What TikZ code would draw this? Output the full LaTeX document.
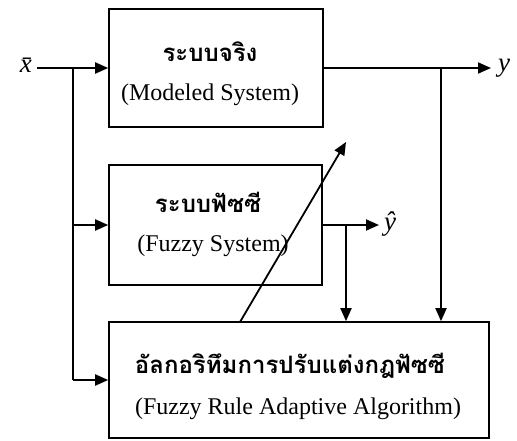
\documentclass[tikz,border=0pt]{standalone}
\usepackage{fontspec}
\setmainfont{Liberation Serif}
\newfontfamily\thaifont[Script=Thai]{Loma}
\usetikzlibrary{arrows.meta}
\begin{document}
\begin{tikzpicture}[x=1pt,y=-1pt,
  block/.style={draw, line width=1.6pt, inner sep=0pt},
  wire/.style={line width=1.8pt},
  flow/.style={wire, -{Triangle[length=13pt,width=11pt]}},
  entxt/.style={font=\fontsize{24}{28}\selectfont, inner sep=0pt, anchor=base},
  thtxt/.style={font=\thaifont\bfseries\fontsize{24}{28}\selectfont, inner sep=0pt, anchor=base},
  sig/.style={font=\fontsize{27}{30}\selectfont\itshape, inner sep=0pt}
]
\useasboundingbox (0,0) rectangle (517,441);

% blocks
\node[block, minimum width=214pt, minimum height=118pt] (plant) at (216,68) {};
\node[block, minimum width=213pt, minimum height=120pt] (fuzz) at (215.5,225) {};
\node[block, minimum width=380pt, minimum height=116pt] (alg) at (299,380) {};

% block captions
\node[thtxt] (plantth) at (210,62) {ระบบจริง};
\node[entxt] (planten) at (210,101) {(Modeled System)};
\node[thtxt] (fuzzth) at (208,212) {ระบบฟัซซี};
\node[entxt] (fuzzen) at (213,251) {(Fuzzy System)};
\node[thtxt] (algth) at (290,373) {อัลกอริทึมการปรับแต่งกฎฟัซซี};
\node[entxt] (algen) at (298,414) {(Fuzzy Rule Adaptive Algorithm)};

% signal labels
\node[sig, anchor=base east] (xlab) at (32,73) {x̄};
\node[sig, anchor=base west] (ylab) at (498,72) {y};
\node[sig, anchor=base west] (yhlab) at (384,230) {ŷ};

% branch points
\coordinate (tap) at (73,68);
\coordinate (ytap) at (441,68);
\coordinate (yhtap) at (346,225);
\coordinate (adjfoot) at (240,322);
\coordinate (adjtip) at (346,142);
\coordinate (xstart) at (37,68);
\coordinate (yend) at (491,68);
\coordinate (yhend) at (379,225);

% input distribution
\draw[flow] (xstart) -- (plant.west);
\draw[wire] (tap) -- (tap |- alg.west);
\draw[flow] (tap |- fuzz.west) -- (fuzz.west);
\draw[flow] (tap |- alg.west) -- (alg.west);

% outputs and feedback to the adaptation block
\draw[flow] (plant.east) -- (yend);
\draw[flow] (ytap) -- (ytap |- alg.north);
\draw[flow] (fuzz.east) -- (yhend);
\draw[flow] (yhtap) -- (yhtap |- alg.north);

% parameter adjustment
\draw[flow] (adjfoot) -- (adjtip);
\end{tikzpicture}
\end{document}
